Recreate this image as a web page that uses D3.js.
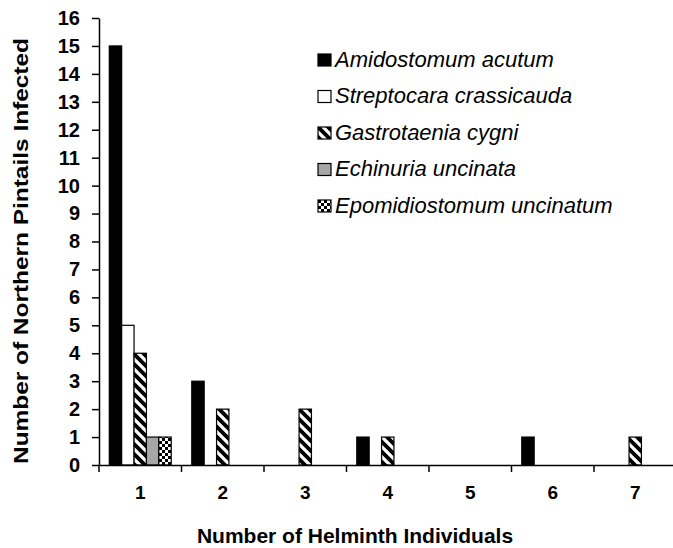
<!DOCTYPE html>
<html>
<head>
<meta charset="utf-8">
<script src="https://cdn.jsdelivr.net/npm/d3@7"></script>
<style>
  body { margin: 0; background: #fff; }
  svg { display: block; }
  text { font-family: "Liberation Sans", Arial, sans-serif; fill: #000; }
  .axis-label { font-weight: bold; }
  .legend text { font-style: italic; font-size: 22px; }
</style>
</head>
<body>
<svg width="673" height="548"></svg>
<script>
  // counts
  const categories = ['1', '2', '3', '4', '5', '6', '7'];
  const species = [
    'Amidostomum acutum',
    'Streptocara crassicauda',
    'Gastrotaenia cygni',
    'Echinuria uncinata',
    'Epomidiostomum uncinatum'
  ];
  const amidostomum = [15, 3, 0, 1, 0, 1, 0];
  const streptocara = [5, 0, 0, 0, 0, 0, 0];
  const gastrotaenia = [4, 2, 2, 1, 0, 0, 1];
  const echinuria = [1, 0, 0, 0, 0, 0, 0];
  const epomidiostomum = [1, 0, 0, 0, 0, 0, 0];
  const yTicks = d3.range(0, 17);

  const seriesValues = [amidostomum, streptocara, gastrotaenia, echinuria, epomidiostomum];
  const fills = ['#000', '#fff', 'url(#hatch)', '#a6a6a6', 'url(#checker)'];

  const svg = d3.select('svg');
  const margin = { top: 18, left: 99, bottom: 83 };
  const height = +svg.attr('height');
  const innerHeight = height - margin.top - margin.bottom;

  // patterns
  const defs = svg.append('defs');
  const hatch = defs.append('pattern')
    .attr('id', 'hatch')
    .attr('patternUnits', 'userSpaceOnUse')
    .attr('width', 10).attr('height', 10);
  hatch.append('rect').attr('width', 10).attr('height', 10).attr('fill', '#fff');
  hatch.append('path')
    .attr('d', 'M-5,-5L15,15M-5,5L5,15M5,-5L15,5')
    .attr('stroke', '#000').attr('stroke-width', 3.8);

  const checker = defs.append('pattern')
    .attr('id', 'checker')
    .attr('patternUnits', 'userSpaceOnUse')
    .attr('width', 6).attr('height', 6);
  checker.append('rect').attr('width', 6).attr('height', 6).attr('fill', '#fff');
  checker.append('rect').attr('width', 3).attr('height', 3).attr('fill', '#000');
  checker.append('rect').attr('x', 3).attr('y', 3).attr('width', 3).attr('height', 3).attr('fill', '#000');

  const x0 = d3.scaleBand()
    .domain(categories)
    .range([margin.left, 676.5]);

  const x1 = d3.scaleBand()
    .domain(species)
    .range([0, x0.bandwidth()])
    .paddingOuter(0.83);

  const yScale = d3.scaleLinear()
    .domain([0, 16])
    .range([margin.top + innerHeight, margin.top]);

  // bars
  const groups = svg.append('g')
    .selectAll('g')
    .data(species)
    .join('g')
      .attr('fill', (d, i) => fills[i]);

  groups.selectAll('rect')
    .data((s, i) => categories.map((c, j) => ({ c, s, v: seriesValues[i][j] })).filter(d => d.v > 0))
    .join('rect')
      .attr('x', d => x0(d.c) + x1(d.s))
      .attr('y', d => yScale(d.v))
      .attr('width', x1.bandwidth())
      .attr('height', d => yScale(0) - yScale(d.v))
      .attr('stroke', '#000')
      .attr('stroke-width', 1.2);

  // axes
  const yAxis = d3.axisLeft(yScale)
    .tickValues(yTicks)
    .tickSize(7)
    .tickSizeOuter(0)
    .tickPadding(12);

  const yAxisG = svg.append('g')
    .attr('transform', `translate(${margin.left},0)`)
    .call(yAxis);
  yAxisG.selectAll('line, path').attr('stroke', '#000').attr('stroke-width', 1.5);
  yAxisG.selectAll('text')
    .attr('font-family', '"Liberation Sans", Arial, sans-serif')
    .attr('font-weight', 'bold')
    .attr('font-size', 20)
    .attr('fill', '#000');

  const xAxis = d3.axisBottom(x0)
    .tickSize(0)
    .tickPadding(20);

  const xAxisG = svg.append('g')
    .attr('transform', `translate(0,${yScale(0)})`)
    .call(xAxis);
  xAxisG.select('.domain').attr('stroke', '#000').attr('stroke-width', 1.5);
  xAxisG.selectAll('text')
    .attr('dy', null)
    .attr('y', 34)
    .attr('font-family', '"Liberation Sans", Arial, sans-serif')
    .attr('font-weight', 'bold')
    .attr('font-size', 19)
    .attr('fill', '#000');

  // tick marks between categories
  xAxisG.selectAll('.sep')
    .data(categories)
    .join('line')
      .attr('class', 'sep')
      .attr('x1', d => x0(d)).attr('x2', d => x0(d))
      .attr('y1', 0).attr('y2', 7)
      .attr('stroke', '#000').attr('stroke-width', 1.5);

  svg.append('text')
    .attr('class', 'axis-label')
    .attr('text-anchor', 'middle')
    .attr('font-size', 21)
    .attr('x', 355)
    .attr('y', 543)
    .text('Number of Helminth Individuals');

  svg.append('text')
    .attr('class', 'axis-label')
    .attr('text-anchor', 'middle')
    .attr('font-size', 21)
    .attr('textLength', 426)
    .attr('lengthAdjust', 'spacingAndGlyphs')
    .attr('transform', 'translate(28,251) rotate(-90)')
    .text('Number of Northern Pintails Infected');

  // legend
  const legend = svg.append('g')
    .attr('class', 'legend')
    .attr('transform', 'translate(318,54)');

  const item = legend.selectAll('g')
    .data(species)
    .join('g')
      .attr('transform', (d, i) => `translate(0,${i * 36.5})`);

  item.append('rect')
    .attr('width', 13).attr('height', 12)
    .attr('fill', (d, i) => fills[i])
    .attr('stroke', '#000')
    .attr('stroke-width', 1.2);

  item.append('text')
    .attr('x', 17)
    .attr('y', 12.5)
    .text(d => d);
</script>
</body>
</html>
